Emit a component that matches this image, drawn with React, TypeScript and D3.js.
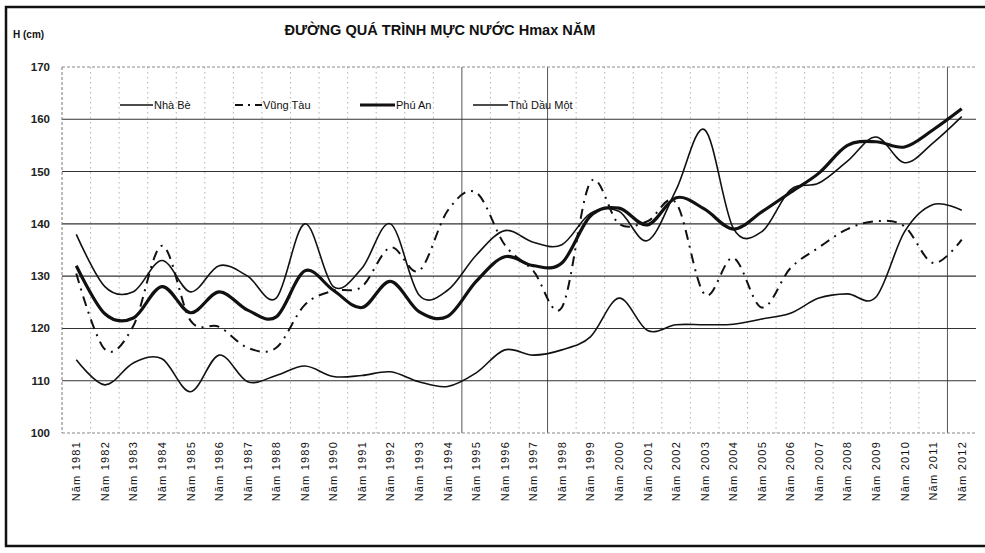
import React from "react";
import * as d3 from "d3";

const categories = [
  "Năm 1981", "Năm 1982", "Năm 1983", "Năm 1984", "Năm 1985", "Năm 1986", "Năm 1987", "Năm 1988",
  "Năm 1989", "Năm 1990", "Năm 1991", "Năm 1992", "Năm 1993", "Năm 1994", "Năm 1995", "Năm 1996",
  "Năm 1997", "Năm 1998", "Năm 1999", "Năm 2000", "Năm 2001", "Năm 2002", "Năm 2003", "Năm 2004",
  "Năm 2005", "Năm 2006", "Năm 2007", "Năm 2008", "Năm 2009", "Năm 2010", "Năm 2011", "Năm 2012",
];

const nhaBe = [
  138, 128, 127, 133, 127, 132, 130, 125.8, 140, 128, 131.5, 140, 126.4, 127.3, 134, 138.7,
  136.5, 136, 142, 142.4, 136.8, 146.5, 158, 139.2, 138.5, 146.5, 147.8, 152, 156.6, 151.7, 155.5, 160.5,
];
const vungTau = [
  130.5, 116, 120.5, 135.8, 121.5, 120.3, 116.3, 116.3, 124.5, 127.2, 128, 135.5, 131, 142.5, 146, 136,
  131, 124, 148, 140, 140.5, 144, 126.5, 133.5, 124, 131.5, 135.5, 139, 140.5, 139.5, 132.5, 137,
];
const phuAn = [
  132, 122.8, 122, 128, 123, 127, 123.5, 122.2, 131, 127.3, 124, 129, 123.2, 122.3, 129, 133.7,
  132, 132.5, 141.5, 143, 139.8, 145, 142.8, 139, 142.3, 146, 149.7, 155, 155.7, 154.7, 158, 162,
];
const thuDauMot = [
  114, 109.2, 113.4, 114.2, 107.9, 114.9, 109.8, 111, 112.8, 110.8, 111, 111.7, 109.8, 108.9, 111.5, 115.9,
  114.9, 115.9, 118.4, 125.8, 119.6, 120.7, 120.7, 120.8, 121.8, 122.9, 125.8, 126.6, 126, 138.5, 143.7, 142.6,
];

const seriesNames = ["Nhà Bè", "Vũng Tàu", "Phú An", "Thủ Dầu Một"];
const yTicks = [100, 110, 120, 130, 140, 150, 160, 170];
const darkDividers = ["Năm 1995", "Năm 1998", "Năm 2012"];

const FONT = "'Liberation Sans', Arial, sans-serif";

export default function App() {
  const W = 985, H = 553;
  const left = 62, right = 976, top = 67, bottom = 433;
  const x = d3.scaleBand<string>().domain(categories).range([left, right]);
  const bw = x.bandwidth();
  const cx = (c: string) => (x(c) as number) + bw / 2;
  const y = d3.scaleLinear().domain([100, 170]).range([bottom, top]);

  const line = d3
    .line<number>()
    .x((_, i) => cx(categories[i]))
    .y((d) => y(d))
    .curve(d3.curveCardinal.tension(0));

  const series = [
    { name: seriesNames[0], values: nhaBe, width: 1.6, dash: undefined as string | undefined },
    { name: seriesNames[1], values: vungTau, width: 2, dash: "10,6,2,6" },
    { name: seriesNames[2], values: phuAn, width: 3.2, dash: undefined },
    { name: seriesNames[3], values: thuDauMot, width: 1.6, dash: undefined },
  ];

  const legendItems = [
    { s: series[0], x1: 120, x2: 153 },
    { s: series[1], x1: 235, x2: 262 },
    { s: series[2], x1: 360, x2: 395 },
    { s: series[3], x1: 473, x2: 508 },
  ];

  return (
    <svg width={W} height={H} style={{ display: "block", position: "absolute", left: 0, top: 0 }}>
      <rect x={0} y={0} width={W} height={H} fill="#fff" />
      {/* outer frame */}
      <rect x={6} y={7} width={990} height={539} fill="none" stroke="#111" strokeWidth={2.5} />

      {/* title */}
      <text x={440} y={35} textAnchor="middle" fontFamily={FONT} fontWeight="bold" fontSize={14}
        textLength={311} lengthAdjust="spacingAndGlyphs" fill="#111">
        ĐƯỜNG QUÁ TRÌNH MỰC NƯỚC Hmax NĂM
      </text>
      <text x={13} y={38} fontFamily={FONT} fontWeight="bold" fontSize={10} fill="#111">H (cm)</text>

      {/* vertical grid */}
      {categories.map((c, i) =>
        i === 0 ? null : (
          <line key={"v" + c} x1={x(c)} x2={x(c)} y1={top} y2={bottom}
            stroke={darkDividers.includes(c) ? "#555" : "#b3b3b3"}
            strokeWidth={1}
            strokeDasharray={darkDividers.includes(c) ? undefined : "1.5,3.5"} />
        )
      )}
      {/* horizontal grid */}
      {yTicks.map((t) => (
        <line key={"h" + t} x1={left} x2={right} y1={y(t)} y2={y(t)}
          stroke={t === 100 || t === 170 ? "#888" : "#333"}
          strokeWidth={t === 100 || t === 170 ? 1 : 1.1}
          strokeDasharray={t === 100 || t === 170 ? "3,2" : undefined} />
      ))}
      <line x1={left} x2={left} y1={top} y2={bottom} stroke="#777" strokeDasharray="3,2" />

      {/* y tick labels */}
      {yTicks.map((t) => (
        <text key={"yl" + t} x={50} y={y(t)} dy="0.35em" textAnchor="end" fontFamily={FONT}
          fontSize={11.5} fontWeight="bold" fill="#222">{t}</text>
      ))}

      {/* x labels */}
      {categories.map((c) => (
        <text key={"xl" + c} transform={`translate(${cx(c) + 4},441) rotate(-90)`} textAnchor="end"
          fontFamily={FONT} fontSize={11} letterSpacing={1.2} fill="#111">{c}</text>
      ))}

      {/* series */}
      {series.map((s) => (
        <path key={s.name} d={line(s.values) || ""} fill="none" stroke="#111" strokeWidth={s.width}
          strokeDasharray={s.dash} strokeLinecap="butt" />
      ))}

      {/* legend */}
      {legendItems.map(({ s, x1, x2 }) => (
        <g key={"lg" + s.name}>
          <line x1={x1} x2={x2} y1={105} y2={105} stroke="#111" strokeWidth={s.width}
            strokeDasharray={s.dash ? "8,5,2,5" : undefined} />
          <text x={x2 + 1} y={105} dy="0.35em" fontFamily={FONT} fontSize={11} fill="#111">{s.name}</text>
        </g>
      ))}
    </svg>
  );
}
